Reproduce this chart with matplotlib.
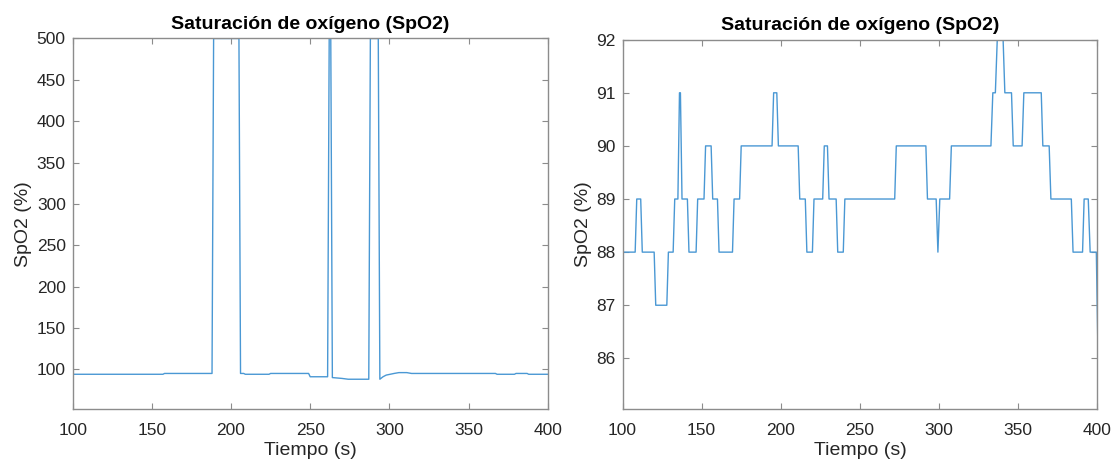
import matplotlib
matplotlib.use("Agg")
import matplotlib.pyplot as plt

plt.rcParams['font.family'] = ['Liberation Sans', 'DejaVu Sans']

# ---- Data ----
# Left panel: SpO2 with sensor-error spikes (vertex times and values)
t_left = [100, 157, 158, 188, 189, 205, 206, 208, 209, 224, 225, 249, 250,
          261, 262, 263, 264, 270, 274, 287, 288, 293, 294, 296, 298, 303,
          306, 311, 314, 367, 368, 379, 380, 387, 388, 400]
spo2_left = [94, 94, 95, 95, 500, 500, 95, 95, 94, 94, 95, 95, 91,
             91, 500, 500, 90, 89, 88, 88, 500, 500, 88, 91, 93, 95,
             96, 96, 95, 95, 94, 94, 95, 95, 94, 94]

# Right panel: SpO2 zoomed (vertex times and values)
t_right = [100, 108, 109, 111.5, 112.5, 120, 121, 128, 129, 132, 133, 135,
           136, 136.6, 137.6, 141, 142, 146.5, 147.5, 151.5, 152.5, 156, 157,
           160, 161, 169.5, 170.5, 174, 175, 194.5, 195.5, 197.5, 198.5, 211,
           212, 215.5, 216.5, 220, 221, 226.5, 227.5, 229.5, 230.5, 235, 236,
           239.5, 240.5, 272, 273, 291.7, 292.7, 298.2, 299.3, 300.5, 306.7,
           307.8, 332.8, 334, 335.6, 336.8, 340.5, 341.6, 345.8, 346.9, 352.5,
           353.6, 364.6, 365.6, 369.6, 370.7, 383.6, 384.7, 390.7, 391.7,
           394.3, 395.5, 399.4, 400.5]
spo2_right = [88, 88, 89, 89, 88, 88, 87, 87, 88, 88, 89, 89,
              91, 91, 89, 89, 88, 88, 89, 89, 90, 90, 89,
              89, 88, 88, 89, 89, 90, 90, 91, 91, 90, 90,
              89, 89, 88, 88, 89, 89, 90, 90, 89, 89, 88,
              88, 89, 89, 90, 90, 89, 89, 88, 89, 89,
              90, 90, 91, 91, 92, 92, 91, 91, 90, 90,
              91, 91, 90, 90, 89, 89, 88, 88, 89,
              89, 88, 88, 86]

x_ticks = [100, 150, 200, 250, 300, 350, 400]
y_ticks_left = [100, 150, 200, 250, 300, 350, 400, 450, 500]
y_ticks_right = [86, 87, 88, 89, 90, 91, 92]

title = "Saturación de oxígeno (SpO2)"
xlabel = "Tiempo (s)"
ylabel = "SpO2 (%)"

LINE = '#4a98d4'
SPINE = '#8c8c8c'
TEXT = '#262626'

fig = plt.figure(figsize=(11.15, 4.62), dpi=100)
ax1 = fig.add_axes([0.0652, 0.1147, 0.426, 0.802])
ax2 = fig.add_axes([0.5583, 0.1140, 0.4258, 0.8001])


def style(ax):
    for s in ax.spines.values():
        s.set_color(SPINE)
        s.set_linewidth(1.0)
    ax.tick_params(direction='in', length=4, width=0.8, color=SPINE,
                   labelcolor=TEXT, labelsize=12.5, top=True, right=True)
    ax.tick_params(axis='x', pad=10)
    ax.tick_params(axis='y', pad=5)
    ax.set_title(title, fontsize=14, fontweight='bold', color='black', pad=7)
    ax.set_xlabel(xlabel, fontsize=14, color=TEXT, labelpad=3)
    ax.set_ylabel(ylabel, fontsize=14, color=TEXT, labelpad=3)


ax1.plot(t_left, spo2_left, color=LINE, lw=1.0)
ax1.set_xlim(100, 400)
ax1.set_ylim(52, 500)
ax1.set_xticks(x_ticks)
ax1.set_yticks(y_ticks_left)
style(ax1)

ax2.plot(t_right, spo2_right, color=LINE, lw=1.0)
ax2.set_xlim(100, 400)
ax2.set_ylim(85.04, 92)
ax2.set_xticks(x_ticks)
ax2.set_yticks(y_ticks_right)
style(ax2)

fig.savefig('out.png', dpi=100)
